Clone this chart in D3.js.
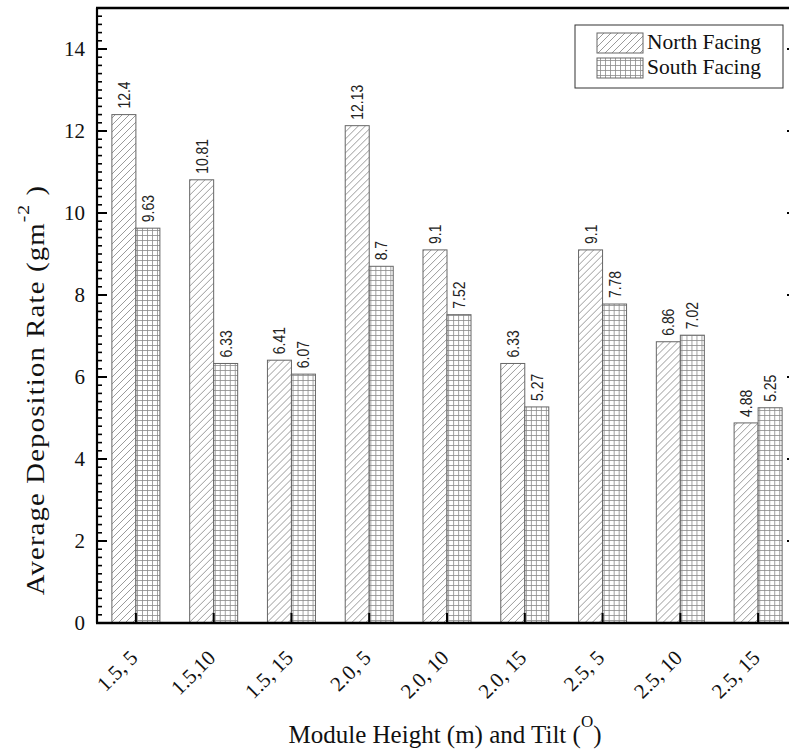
<!DOCTYPE html>
<html>
<head>
<meta charset="utf-8">
<script src="https://cdn.jsdelivr.net/npm/d3@7"></script>
<style>
  html, body { margin: 0; padding: 0; background: #fff; }
  svg { display: block; }
</style>
</head>
<body>
<svg id="chart" width="789" height="753"></svg>
<script>
// Average deposition rate by module height (m) and tilt (deg)
const categories = ["1.5, 5", "1.5,10", "1.5, 15", "2.0, 5", "2.0, 10", "2.0, 15", "2.5, 5", "2.5, 10", "2.5, 15"];
const seriesNames = ["North Facing", "South Facing"];
const northValues = [12.4, 10.81, 6.41, 12.13, 9.1, 6.33, 9.1, 6.86, 4.88];
const southValues = [9.63, 6.33, 6.07, 8.7, 7.52, 5.27, 7.78, 7.02, 5.25];
const yTicks = [0, 2, 4, 6, 8, 10, 12, 14];

const svg = d3.select("#chart");
const plotLeft = 97, plotRight = 797, plotTop = 8, plotBottom = 623;
const serif = "'Liberation Serif', 'Times New Roman', serif";
const sans = "'Liberation Sans', Arial, sans-serif";

// Fill patterns
const defs = svg.append("defs");
const hatch = defs.append("pattern")
  .attr("id", "hatchNorth").attr("patternUnits", "userSpaceOnUse")
  .attr("width", 7).attr("height", 7);
hatch.append("rect").attr("width", 7).attr("height", 7).attr("fill", "#fff");
hatch.append("path").attr("d", "M-1,1 l2,-2 M0,7 l7,-7 M6,8 l2,-2")
  .attr("stroke", "#808080").attr("stroke-width", 0.8);

const grid = defs.append("pattern")
  .attr("id", "gridSouth").attr("patternUnits", "userSpaceOnUse")
  .attr("width", 5).attr("height", 5);
grid.append("rect").attr("width", 5).attr("height", 5).attr("fill", "#fff");
grid.append("path").attr("d", "M0,0.5 H5 M0.5,0 V5")
  .attr("stroke", "#8a8a8a").attr("stroke-width", 0.8);

const fills = ["url(#hatchNorth)", "url(#gridSouth)"];

// Scales
const y = d3.scaleLinear().domain([0, 15]).range([plotBottom, plotTop]);
const x0 = d3.scaleBand().domain(categories).range([plotLeft, plotRight]).padding(0);
const x1 = d3.scaleBand().domain(seriesNames).range([0, x0.bandwidth()])
  .paddingInner(0).paddingOuter(0.62);

const rows = categories.map((c, i) => ({ cat: c, vals: [northValues[i], southValues[i]] }));

// Bars
const groups = svg.append("g").selectAll("g").data(rows).join("g")
  .attr("transform", d => `translate(${x0(d.cat)},0)`);

groups.selectAll("rect").data(d => d.vals.map((v, k) => ({ v, k })))
  .join("rect")
  .attr("x", d => x1(seriesNames[d.k]))
  .attr("y", d => y(d.v))
  .attr("width", x1.bandwidth())
  .attr("height", d => y(0) - y(d.v))
  .attr("fill", d => fills[d.k])
  .attr("stroke", "#666").attr("stroke-width", 1);

// Value labels (narrow vertical text above each bar)
groups.selectAll("text").data(d => d.vals.map((v, k) => ({ v, k })))
  .join("text")
  .attr("transform", d => `translate(${x1(seriesNames[d.k]) + x1.bandwidth() / 2 + 6},${y(d.v) - 6}) rotate(-90) scale(0.82,1)`)
  .attr("font-family", sans).attr("font-size", 17).attr("fill", "#222")
  .text(d => String(d.v));

// Left axis with minor ticks
const minorTicks = d3.range(0, 15.001, 0.2).map(v => +v.toFixed(1));
const axisG = svg.append("g");
axisG.selectAll("line.minor").data(minorTicks).join("line")
  .attr("class", "minor")
  .attr("x1", plotLeft).attr("x2", plotLeft + 5)
  .attr("y1", d => y(d)).attr("y2", d => y(d))
  .attr("stroke", "#000").attr("stroke-width", 1.6);
axisG.selectAll("line.major").data(yTicks).join("line")
  .attr("class", "major")
  .attr("x1", plotLeft).attr("x2", plotLeft + 10)
  .attr("y1", d => y(d)).attr("y2", d => y(d))
  .attr("stroke", "#000").attr("stroke-width", 2);
axisG.selectAll("text").data(yTicks).join("text")
  .attr("x", plotLeft - 12).attr("y", d => y(d) + 7)
  .attr("text-anchor", "end")
  .attr("font-family", serif).attr("font-size", 21).attr("fill", "#111")
  .text(d => d);

// Right axis ticks (inward)
axisG.selectAll("line.rmajor").data(yTicks).join("line")
  .attr("class", "rmajor")
  .attr("x1", plotRight - 10).attr("x2", plotRight)
  .attr("y1", d => y(d)).attr("y2", d => y(d))
  .attr("stroke", "#000").attr("stroke-width", 2);

// Frame lines
svg.append("line").attr("x1", plotLeft).attr("x2", plotLeft).attr("y1", plotTop).attr("y2", plotBottom)
  .attr("stroke", "#000").attr("stroke-width", 2.2);
svg.append("line").attr("x1", plotLeft - 1).attr("x2", plotRight).attr("y1", plotTop).attr("y2", plotTop)
  .attr("stroke", "#000").attr("stroke-width", 2.5);
svg.append("line").attr("x1", plotLeft - 1).attr("x2", plotRight).attr("y1", plotBottom).attr("y2", plotBottom)
  .attr("stroke", "#000").attr("stroke-width", 2.5);
svg.append("line").attr("x1", plotRight).attr("x2", plotRight).attr("y1", plotTop).attr("y2", plotBottom)
  .attr("stroke", "#000").attr("stroke-width", 2.2);

// Category ticks (inward from bottom)
const xAxisG = svg.append("g");
xAxisG.selectAll("line").data(categories).join("line")
  .attr("x1", d => x0(d) + x0.bandwidth() / 2).attr("x2", d => x0(d) + x0.bandwidth() / 2)
  .attr("y1", plotBottom).attr("y2", plotBottom - 10)
  .attr("stroke", "#000").attr("stroke-width", 2);
xAxisG.selectAll("text").data(categories).join("text")
  .attr("transform", d => `translate(${x0(d) + x0.bandwidth() / 2 + 3},${plotBottom + 36}) rotate(-45)`)
  .attr("text-anchor", "end")
  .attr("font-family", serif).attr("font-size", 21).attr("fill", "#111")
  .text(d => d);

// Axis titles
const yTitle = svg.append("text")
  .attr("transform", `translate(44,390) rotate(-90) scale(1.15,1)`)
  .attr("text-anchor", "middle")
  .attr("letter-spacing", 1)
  .attr("font-family", serif).attr("font-size", 25).attr("fill", "#111");
yTitle.append("tspan").text("Average Deposition Rate (gm");
yTitle.append("tspan").attr("dy", -15).attr("font-size", 17).text("-2");
yTitle.append("tspan").attr("dy", 15).text(" )");

const xTitle = svg.append("text")
  .attr("x", 445).attr("y", 743)
  .attr("text-anchor", "middle")
  .attr("font-family", serif).attr("font-size", 25).attr("fill", "#111");
xTitle.append("tspan").text("Module Height (m) and Tilt (");
xTitle.append("tspan").attr("dy", -16).attr("font-size", 17).text("O");
xTitle.append("tspan").attr("dy", 16).text(")");

// Legend
const legend = svg.append("g");
legend.append("rect").attr("x", 575).attr("y", 25).attr("width", 208).attr("height", 63)
  .attr("fill", "#fff").attr("stroke", "#333").attr("stroke-width", 1);
seriesNames.forEach((name, k) => {
  const ly = 33 + k * 25;
  legend.append("rect").attr("x", 597).attr("y", ly).attr("width", 46).attr("height", 20)
    .attr("fill", fills[k]).attr("stroke", "#666").attr("stroke-width", 1);
  legend.append("text").attr("x", 647).attr("y", ly + 16)
    .attr("font-family", serif).attr("font-size", 21.5).attr("fill", "#111")
    .text(name);
});
</script>
</body>
</html>
